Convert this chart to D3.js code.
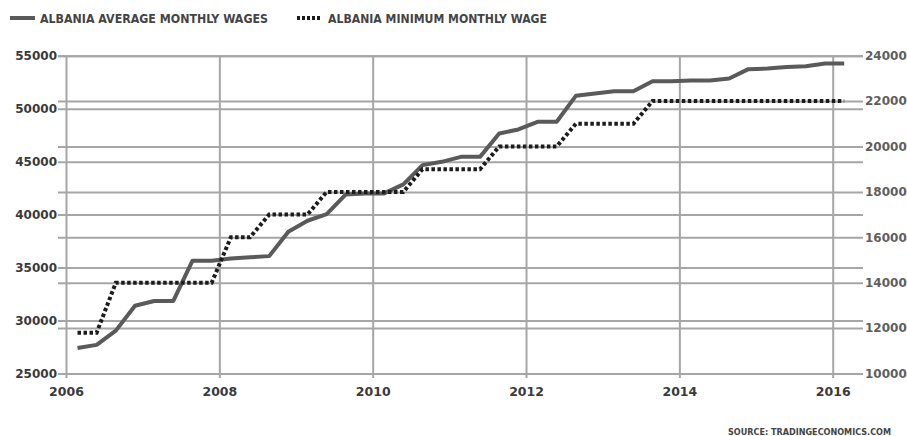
<!DOCTYPE html>
<html><head><meta charset="utf-8">
<script src="https://cdn.jsdelivr.net/npm/d3@7"></script>
<style>body{margin:0;background:#fff}svg{display:block}</style>
</head><body><svg id="c" width="907" height="436"></svg>
<script>
const quarters = ["2006Q1","2006Q2","2006Q3","2006Q4","2007Q1","2007Q2","2007Q3","2007Q4",
  "2008Q1","2008Q2","2008Q3","2008Q4","2009Q1","2009Q2","2009Q3","2009Q4",
  "2010Q1","2010Q2","2010Q3","2010Q4","2011Q1","2011Q2","2011Q3","2011Q4",
  "2012Q1","2012Q2","2012Q3","2012Q4","2013Q1","2013Q2","2013Q3","2013Q4",
  "2014Q1","2014Q2","2014Q3","2014Q4","2015Q1","2015Q2","2015Q3","2015Q4","2016Q1"];
const averageWages = [27400,27700,29050,31400,31850,31850,35650,35650,
  35850,35970,36080,38380,39420,40050,41900,42000,
  42000,42850,44670,44980,45450,45450,47660,48040,
  48760,48760,51210,51430,51650,51650,52590,52590,
  52660,52660,52850,53730,53790,53940,54010,54260,54260];
const minimumWage = [11800,11800,14000,14000,14000,14000,14000,14000,
  16000,16000,17000,17000,17000,18000,18000,18000,
  18000,18000,19000,19000,19000,19000,20000,20000,
  20000,20000,21000,21000,21000,21000,22000,22000,
  22000,22000,22000,22000,22000,22000,22000,22000,22000];
const xTicks = [2006,2008,2010,2012,2014,2016];
const leftTicks = [25000,30000,35000,40000,45000,50000,55000];
const rightTicks = [10000,12000,14000,16000,18000,20000,22000,24000];
const legendLabels = ["ALBANIA AVERAGE MONTHLY WAGES","ALBANIA MINIMUM MONTHLY WAGE"];
const sourceText = "SOURCE: TRADINGECONOMICS.COM";

// quarter label -> fractional year (points sit slightly into each quarter)
const qToYear = q => +q.slice(0,4) + (+q.slice(5) - 1) / 4 + 0.15;

const svg = d3.select("#c");
const x = d3.scaleLinear().domain([2006, 2016]).range([66, 832.7]);
const yL = d3.scaleLinear().domain([25000, 55000]).range([373.5, 55.7]);
const yR = d3.scaleLinear().domain([10000, 24000]).range([373.5, 55.7]);
const gridL = 58, gridR = 863;
const gridColor = "#a6a6a6";
const numFont = "'DejaVu Sans', sans-serif";
const condFont = "'Liberation Sans Narrow','DejaVu Sans Condensed','Arial Narrow',sans-serif";

// vertical grid / x axis
const gx = svg.append("g").attr("transform", "translate(0,378)")
  .call(d3.axisBottom(x).tickValues(xTicks).tickFormat(d3.format("d"))
    .tickSize(-(378 - 55.7)).tickPadding(9));
// left axis + horizontal grid
const gl = svg.append("g").attr("transform", `translate(${gridL},0)`)
  .call(d3.axisLeft(yL).tickValues(leftTicks).tickFormat(d3.format("d"))
    .tickSize(-(gridR - gridL)).tickPadding(1));
// right axis + horizontal grid
const gr = svg.append("g").attr("transform", `translate(${gridR},0)`)
  .call(d3.axisRight(yR).tickValues(rightTicks).tickFormat(d3.format("d"))
    .tickSize(-(gridR - gridL)).tickPadding(2));

[gx, gl, gr].forEach(g => {
  g.select(".domain").remove();
  g.selectAll(".tick line").attr("stroke", gridColor).attr("stroke-width", 2);
  g.selectAll(".tick text").attr("font-family", numFont).attr("font-weight", "bold")
    .attr("font-size", 12);
});
gx.selectAll(".tick text").attr("fill", "#3a3a3a").attr("font-size", 12.5);
gl.selectAll(".tick text").attr("fill", "#3a3a3a");
gr.selectAll(".tick text").attr("fill", "#5e5e5e");

const avgData = quarters.map((q, i) => ({t: qToYear(q), v: averageWages[i]}));
const minData = quarters.map((q, i) => ({t: qToYear(q), v: minimumWage[i]}));

svg.append("path").datum(avgData)
  .attr("fill", "none").attr("stroke", "#5a5a5a").attr("stroke-width", 4)
  .attr("stroke-linejoin", "round")
  .attr("d", d3.line().x(d => x(d.t)).y(d => yL(d.v)));
svg.append("path").datum(minData)
  .attr("fill", "none").attr("stroke", "#1c1c1c").attr("stroke-width", 4)
  .attr("stroke-dasharray", "3.5,2.5")
  .attr("d", d3.line().x(d => x(d.t)).y(d => yR(d.v)));

// legend
const lg = svg.append("g");
lg.append("line").attr("x1", 10).attr("x2", 35).attr("y1", 18).attr("y2", 18)
  .attr("stroke", "#5a5a5a").attr("stroke-width", 4);
lg.append("text").attr("x", 40).attr("y", 22.5).text(legendLabels[0])
  .attr("textLength", 228).attr("lengthAdjust", "spacingAndGlyphs");
lg.append("line").attr("x1", 297).attr("x2", 321).attr("y1", 18).attr("y2", 18)
  .attr("stroke", "#1c1c1c").attr("stroke-width", 4).attr("stroke-dasharray", "3,2");
lg.append("text").attr("x", 328).attr("y", 22.5).text(legendLabels[1])
  .attr("textLength", 219).attr("lengthAdjust", "spacingAndGlyphs");
lg.selectAll("text").attr("font-family", condFont).attr("font-weight", "bold")
  .attr("font-size", 13).attr("fill", "#444");

svg.append("text").attr("x", 891).attr("y", 435).attr("text-anchor", "end")
  .text(sourceText).attr("textLength", 163).attr("lengthAdjust", "spacingAndGlyphs")
  .attr("font-family", condFont).attr("font-weight", "bold").attr("font-size", 9.5)
  .attr("fill", "#444");
</script></body></html>
